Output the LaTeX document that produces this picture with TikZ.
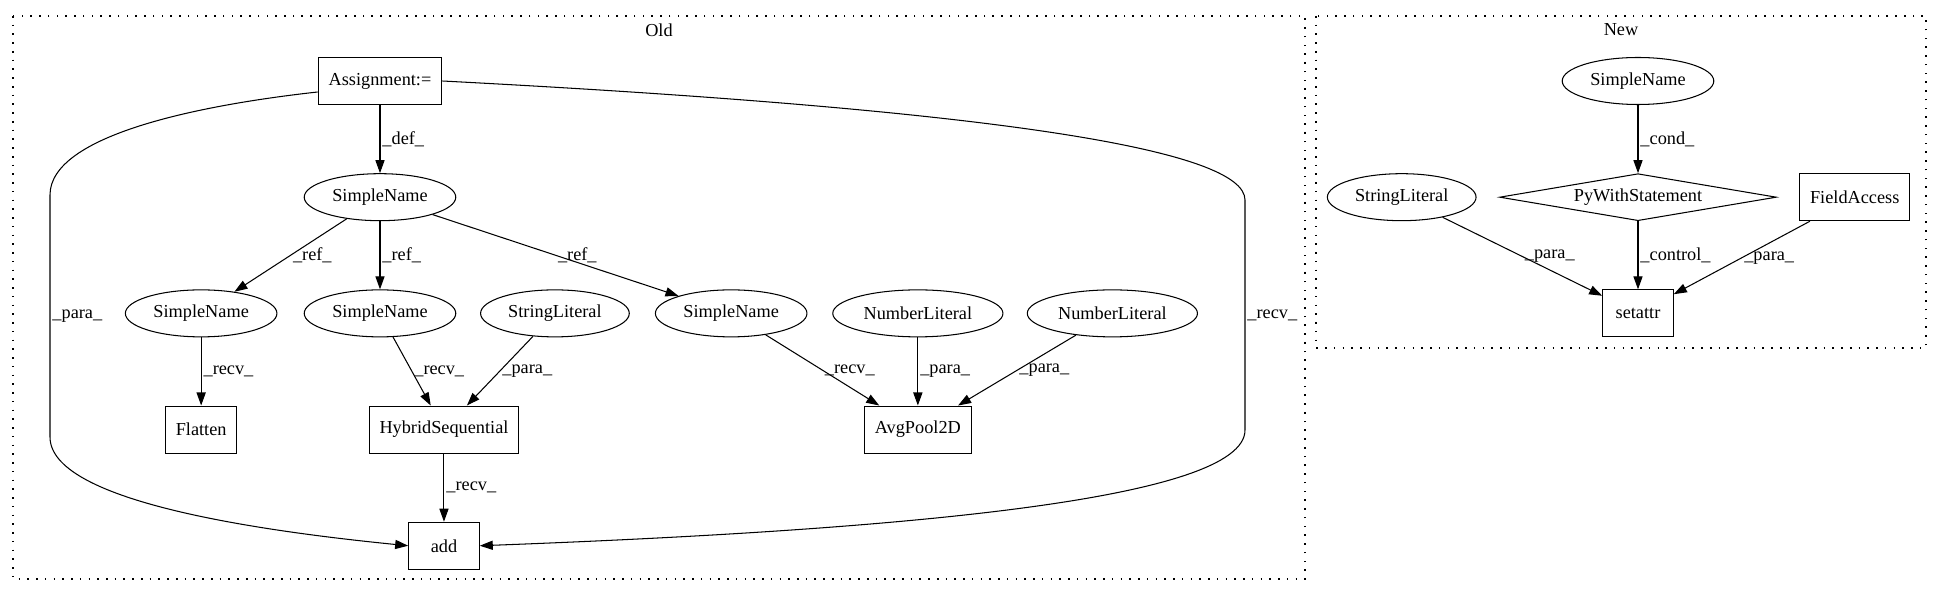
\documentclass[tikz,border=0pt]{standalone}
\usepackage{fontspec}
\setmainfont{Liberation Serif}
\usetikzlibrary{arrows.meta,positioning,shapes.geometric}

\begin{document}
\begin{tikzpicture}[x=0.766pt,y=-0.766pt,
  on grid, node distance=89pt,
  every node/.style={font=\fontsize{14pt}{16pt}\selectfont},
  box/.style={draw,rectangle,line width=0.8pt,minimum width=54pt,minimum height=36pt,inner xsep=8pt},
  oval/.style={draw,ellipse,line width=0.8pt,minimum width=54pt,minimum height=36pt,inner xsep=4.5pt,inner ysep=1pt},
  diam/.style={draw,diamond,line width=0.8pt,aspect=5.9,inner sep=0pt,minimum width=212pt,minimum height=36pt},
  link/.style={-{Triangle[length=10pt,width=7pt]},line width=0.8pt},
  elbl/.style={right,inner sep=1.5pt},
  cluster/.style={line width=0.8pt,dash pattern=on 1.2pt off 5.5pt}]
\useasboundingbox (0,0) rectangle (1939,596);
\draw[cluster] (13,16) rectangle (1305,579);
\draw[cluster] (1316,16) rectangle (1926,348);
\node (oldlbl) at (659,30) {Old};
\node (newlbl) at (1621,30) {New};

\node[box] (assign) at (380,81) {Assignment:=};
\node[oval, below=of assign] (sn0) {SimpleName};
\node[oval, below left=89pt and 137pt of sn0] (sn1) {SimpleName};
\node[oval, below=of sn0] (sn2) {SimpleName};
\node[oval, right=134pt of sn2] (str1) {StringLiteral};
\node[oval, right=135pt of str1] (sn3) {SimpleName};
\node[oval, right=143pt of sn3] (num1) {NumberLiteral};
\node[oval, right=149pt of num1] (num2) {NumberLiteral};
\node[box, below=of sn1] (flat) {Flatten};
\node[box, below right=89pt and 49pt of sn2] (hyb) {HybridSequential};
\node[box, below=of num1] (pool) {AvgPool2D};
\node[box, below=of hyb] (add) {add};

\node[oval] (nsn) at (1638,81) {SimpleName};
\node[diam, below=of nsn] (with) {PyWithStatement};
\node[oval, left=181pt of with] (nstr) {StringLiteral};
\node[box, right=166pt of with] (field) {FieldAccess};
\node[box, below=of with] (setattr) {setattr};

\draw[link] (assign) -- node[elbl] {\_def\_} (sn0);
\draw[link] (sn0) -- node[elbl] {\_ref\_} (sn1);
\draw[link] (sn0) -- node[elbl] {\_ref\_} (sn2);
\draw[link] (sn0) -- node[elbl] {\_ref\_} (sn3);
\draw[link] (sn1) -- node[elbl] {\_recv\_} (flat);
\draw[link] (sn2) -- node[elbl] {\_recv\_} (hyb);
\draw[link] (str1) -- node[elbl] {\_para\_} (hyb);
\draw[link] (sn3) -- node[elbl] {\_recv\_} (pool);
\draw[link] (num1) -- node[elbl] {\_para\_} (pool);
\draw[link] (num2) -- node[elbl] {\_para\_} (pool);
\draw[link] (hyb) -- node[elbl] {\_recv\_} (add);
\draw[link] (assign.190) .. controls (200,105) and (50,135) .. (50,195)
  -- node[elbl] {\_para\_} (50,437) .. controls (50,500) and (250,530) .. (add.west);
\draw[link] (assign.east) .. controls (1000,110) and (1245,150) .. (1245,200)
  -- node[elbl] {\_recv\_} (1245,430) .. controls (1245,500) and (900,530) .. (add.east);

\draw[link] (nsn) -- node[elbl] {\_cond\_} (with);
\draw[link] (nstr) -- node[elbl] {\_para\_} (setattr);
\draw[link] (with) -- node[elbl] {\_control\_} (setattr);
\draw[link] (field) -- node[elbl] {\_para\_} (setattr);
\end{tikzpicture}
\end{document}
